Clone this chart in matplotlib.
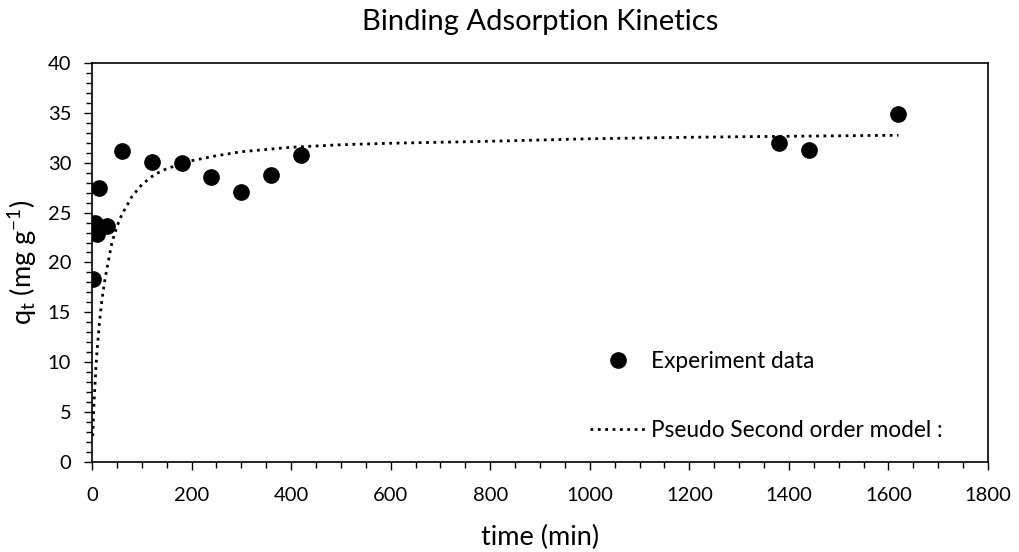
import matplotlib
matplotlib.use("Agg")
import matplotlib.pyplot as plt
from matplotlib.ticker import MultipleLocator

plt.rcParams['font.family'] = ['Lato', 'DejaVu Sans']
plt.rcParams['mathtext.fontset'] = 'custom'
plt.rcParams['mathtext.rm'] = 'Lato'
plt.rcParams['mathtext.it'] = 'Lato'

# Experimental data
exp_time = [1, 5, 10, 15, 30, 60, 120, 180, 240, 300, 360, 420, 1380, 1440, 1620]
exp_qt = [18.3, 24.0, 22.9, 27.5, 23.7, 31.2, 30.1, 30.0, 28.6, 27.1, 28.8, 30.8, 32.0, 31.3, 34.9]

# Pseudo second order model curve
model_time = [1.5, 3, 5, 8, 10, 15, 20, 25, 30, 40, 50, 60, 80, 100, 125, 150,
              200, 250, 300, 400, 500, 600, 800, 1000, 1200, 1400, 1620]
model_qt = [2.6, 4.9, 6.9, 9.6, 11.1, 14.0, 16.3, 18.0, 19.4, 22.0, 23.6, 24.8,
            26.6, 27.8, 28.8, 29.4, 30.2, 30.7, 31.1, 31.55, 31.8, 31.95, 32.15,
            32.4, 32.55, 32.65, 32.75]

fig = plt.figure(figsize=(10.19, 5.52), dpi=100)
ax = fig.add_axes([0.0903, 0.163, 0.8793, 0.723])

ax.plot(exp_time, exp_qt, 'o', color='black', markersize=11, label='Experiment data',
        zorder=3)
ax.plot(model_time, model_qt, ':', color='black', linewidth=2.0,
        label='Pseudo Second order model :')

ax.set_xlim(0, 1800)
ax.set_ylim(0, 40)
ax.xaxis.set_major_locator(MultipleLocator(200))
ax.xaxis.set_minor_locator(MultipleLocator(50))
ax.yaxis.set_major_locator(MultipleLocator(5))
ax.yaxis.set_minor_locator(MultipleLocator(1))
ax.tick_params(which='major', direction='out', length=6, width=1, labelsize=14.5)
ax.tick_params(which='minor', direction='out', length=4, width=1)
ax.tick_params(axis='x', pad=12)
ax.tick_params(axis='y', pad=9)

for s in ax.spines.values():
    s.set_linewidth(1.2)

ax.set_xlabel('time (min)', fontsize=19.5, labelpad=15)
ax.set_ylabel(r'q$_\mathregular{t}$ (mg g$^\mathregular{-1}$)', fontsize=19.5, labelpad=6)
ax.set_title('Binding Adsorption Kinetics', fontsize=21, pad=24)

ax.legend(loc='center left', bbox_to_anchor=(0.579, 0.2826), bbox_transform=fig.transFigure,
          frameon=False, fontsize=16.3, handlelength=2.43, labelspacing=2.15,
          handletextpad=0.27, borderaxespad=0, borderpad=0)

fig.savefig('out.png', dpi=100)
